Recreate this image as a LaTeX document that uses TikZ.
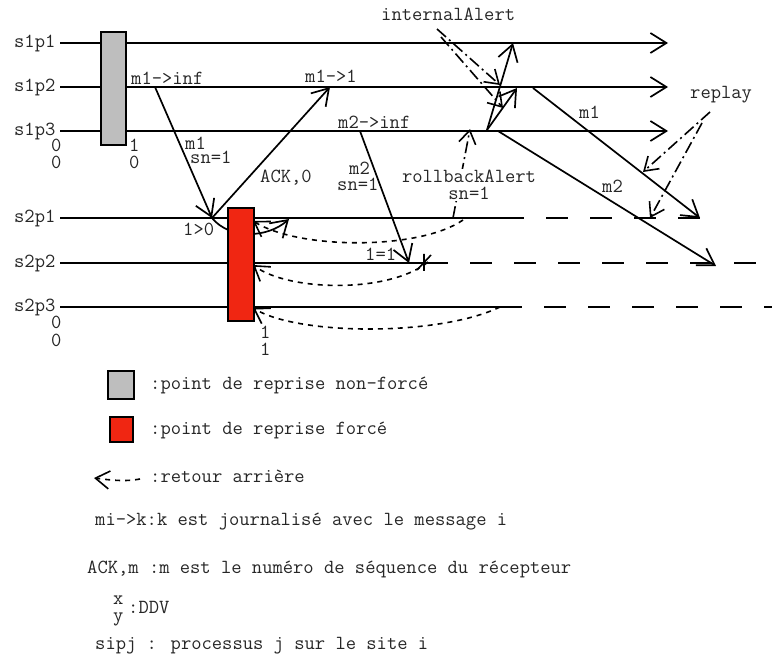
\documentclass[tikz,border=0pt]{standalone}
\usepackage{fontspec}
\usetikzlibrary{arrows.meta}
\definecolor{ckgrey}{RGB}{190,190,190}
\definecolor{ckred}{RGB}{240,38,18}
\begin{document}
\begin{tikzpicture}[x=1pt,y=-1pt,
  every node/.style={font=\ttfamily\fontsize{20}{22}\selectfont, inner sep=0pt, anchor=base west, text=black!85},
  stack/.style={align=left, anchor=north west, font=\ttfamily\fontsize{20}{#1}\selectfont},
  proc/.style={line width=1.7pt},
  arr/.style={line width=1.7pt, -{Straight Barb[length=16pt,width=20pt]}},
  dproc/.style={line width=1.7pt, dash pattern=on 22pt off 22pt},
  back/.style={line width=1.6pt, dash pattern=on 5pt off 5pt, -{Straight Barb[length=14pt,width=18pt]}},
  ptr/.style={line width=1.6pt, dash pattern=on 12pt off 4pt on 2pt off 4pt, -{Straight Barb[length=13pt,width=17pt]}},
  ckbox/.style={draw=black, line width=1.8pt},
]
\path[use as bounding box] (0,0) rectangle (772,663);

% ---------- coordinates ----------
\coordinate (a1) at (60,43);  \coordinate (b1) at (668,43);
\coordinate (a2) at (60,87);  \coordinate (b2) at (668,87);
\coordinate (a3) at (60,131); \coordinate (b3) at (668,131);
\coordinate (c1) at (60,218); \coordinate (d1) at (502,218); \coordinate (e1) at (700,218);
\coordinate (c2) at (60,263); \coordinate (d2) at (448,263); \coordinate (e2) at (757,263);
\coordinate (c3) at (60,307); \coordinate (d3) at (500,307); \coordinate (e3) at (772,307);

% ---------- process lines ----------
\draw[arr] (a1) -- (b1);
\draw[arr] (a2) -- (b2);
\draw[arr] (a3) -- (b3);
\draw[proc] (c1) -- (d1);
\draw[dproc] (d1) -- (e1);
\draw[proc] (c2) -- (d2);
\draw[dproc, dash phase=22pt] (d2) -- (e2);
\draw[proc] (c3) -- (d3);
\draw[dproc] (d3) -- (e3);

% ---------- labels of processes ----------
\node (l11) at (14,48) {s1p1};
\node (l12) at (14,92) {s1p2};
\node (l13) at (14,136) {s1p3};
\node (l21) at (14,223) {s2p1};
\node (l22) at (14,268) {s2p2};
\node (l23) at (14,312) {s2p3};

% ---------- messages ----------
\coordinate (m1s) at (155,87);  \coordinate (m1r) at (212,218);
\coordinate (ackr) at (330,87);
\coordinate (m2s) at (360,131); \coordinate (m2r) at (409,263);
\draw[arr] (m1s) -- (m1r);
\draw[arr] (m1r) -- (ackr);
\draw[arr] (m2s) -- (m2r);

% moved delivery arc
\coordinate (arcE) at (289,219);
\draw[arr] (m1r) .. controls (230,240) and (268,238) .. (arcE);

% internal alerts
\coordinate (ia) at (487,130);
\coordinate (ia1) at (513,43);
\coordinate (ia2) at (517,88);
\draw[arr] (ia) -- (ia1);
\draw[arr] (ia) -- (ia2);

% replay messages
\coordinate (r1s) at (533,88);  \coordinate (r1e) at (700,218);
\coordinate (r2s) at (498,131); \coordinate (r2e) at (716,266);
\draw[arr] (r1s) -- (r1e);
\draw[arr] (r2s) -- (r2e);

% ---------- rollbacks (dashed) ----------
\coordinate (k1s) at (463,220); \coordinate (k1e) at (253,221);
\coordinate (k2s) at (428,262); \coordinate (k2e) at (253,265);
\coordinate (k3s) at (500,307); \coordinate (k3e) at (253,308);
\draw[back] (k1s) .. controls (420,250) and (300,250) .. (k1e);
\draw[back] (k2s) .. controls (390,293) and (290,292) .. (k2e);
\draw[back] (k3s) .. controls (440,336) and (300,336) .. (k3e);
\coordinate (x1) at (424,254); \coordinate (x2) at (424,271);
\coordinate (x3) at (431,255); \coordinate (x4) at (417,270);
\draw[line width=1.6pt] (x1) -- (x2) (x3) -- (x4);

% ---------- pointers (dash-dot) ----------
\coordinate (p1s) at (437,29);  \coordinate (p1e) at (500,85);
\coordinate (p2s) at (441,37);  \coordinate (p2e) at (503,108);
\draw[ptr] (p1s) -- (p1e);
\draw[ptr] (p2s) -- (p2e);
\coordinate (q1s) at (710,112); \coordinate (q1e) at (643,172);
\coordinate (q2s) at (702,123); \coordinate (q2e) at (650,218);
\draw[ptr] (q1s) -- (q1e);
\draw[ptr] (q2s) -- (q2e);
\coordinate (rbs) at (453,218); \coordinate (rbe) at (470,129);
\draw[ptr] (rbs) -- (rbe);

% ---------- checkpoints ----------
\node[ckbox, fill=ckgrey, minimum width=25pt, minimum height=113pt, anchor=north west] (cp1) at (100,31) {};
\node[ckbox, fill=ckred, minimum width=26pt, minimum height=113pt, anchor=north west] (cp2) at (227,207) {};

% ---------- message labels ----------
\node (t1) at (131,85) {m1->inf};
\node (t2) at (305,83) {m1->1};
\node (t3) at (338,129) {m2->inf};
\node (t4) at (381,21) {internalAlert};
\node[stack=14] (t5) at (185,136.8) {m1\\\hspace*{5pt}sn=1};
\node (t7) at (260,183) {ACK,0};
\node[stack=16] (t8) at (337,161.8) {\hspace*{12pt}m2\\sn=1};
\node[align=center, anchor=north, fill=white, inner sep=1pt, font=\ttfamily\fontsize{20}{17}\selectfont] (t10) at (469,168.8) {rollbackAlert\\sn=1};
\node (t12) at (183,236) {1>0};
\node (t13) at (365,261) {1=1};
\node (t14) at (579,119) {m1};
\node (t15) at (602,193) {m2};
\node (t16) at (690,99) {replay};
\node[stack=17] (d1n) at (51,138.8) {0\\0};
\node[stack=17] (d2n) at (129,138.8) {1\\0};
\node[stack=18] (d3n) at (51,315.8) {0\\0};
\node[stack=17] (d4n) at (260,325.8) {1\\1};

% ---------- legend ----------
\node[ckbox, fill=ckgrey, minimum width=26pt, minimum height=28pt, anchor=north west] (lg1) at (107,370) {};
\node (lt1) at (150,389) {:point de reprise non-forcé};
\node[ckbox, fill=ckred, minimum width=23pt, minimum height=25pt, anchor=north west] (lg2) at (109,416) {};
\node (lt2) at (150,434) {:point de reprise forcé};
\coordinate (lr1) at (140,479); \coordinate (lr2) at (94,478);
\draw[back] (lr1) .. controls (125,482) and (110,480) .. (lr2);
\node (lt3) at (150,482) {:retour arrière};
\node (lt4) at (95,525) {mi->k:k est journalisé avec le message i};
\node (lt5) at (87,573) {ACK,m :m est le numéro de séquence du récepteur};
\node[stack=17] (lt6) at (113,595.4) {x\\y};
\node (lt8) at (128,613) {:DDV};
\node (lt9) at (95,649) {sipj : processus j sur le site i};
\end{tikzpicture}
\end{document}
